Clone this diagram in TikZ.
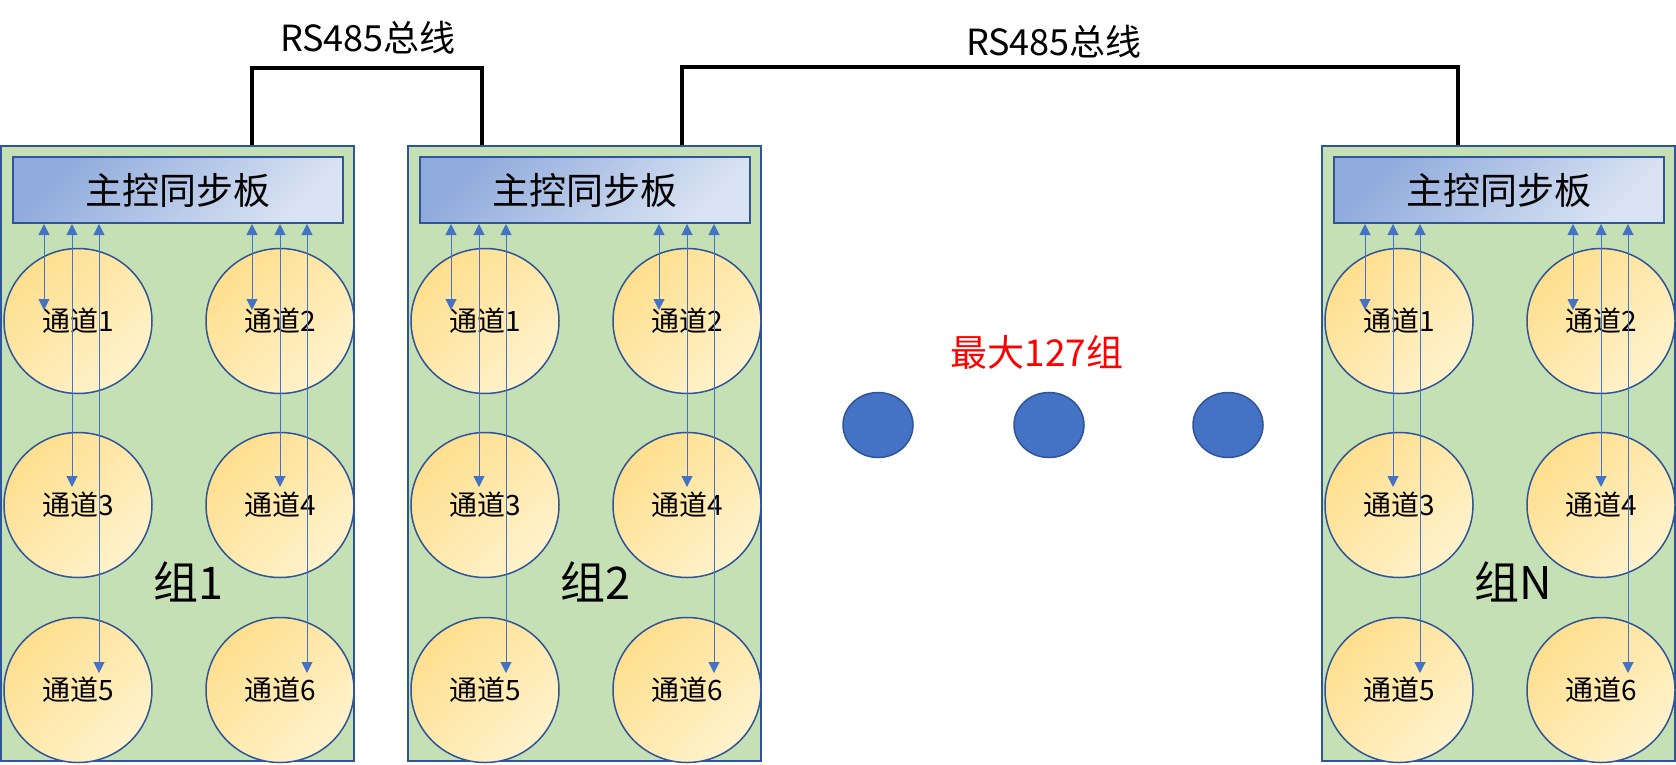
\documentclass[tikz,border=0pt]{standalone}
\usepackage{fontspec}
\setmainfont{Noto Sans CJK SC}
\usetikzlibrary{shapes.geometric,arrows.meta,calc}

\definecolor{boxgreen}{HTML}{C5E0B4}
\definecolor{edgeblue}{HTML}{2F5597}
\definecolor{linkblue}{HTML}{4472C4}
\definecolor{boardtop}{HTML}{8FAADC}
\definecolor{boardbot}{HTML}{DAE3F3}
\definecolor{chantop}{HTML}{FFDF8E}
\definecolor{chanbot}{HTML}{FFF2CC}
\definecolor{maxred}{HTML}{FF0000}

\tikzset{
  groupbox/.style={draw=edgeblue,fill=boxgreen,line width=2pt,minimum width=353pt,minimum height=615pt,inner sep=0pt},
  board/.style={draw=edgeblue,line width=2pt,top color=boardtop,bottom color=boardbot,shading angle=45,
    minimum width=330pt,minimum height=66pt,inner sep=0pt,font=\fontsize{37}{44}\selectfont},
  chan/.style={ellipse,draw=edgeblue,line width=1.5pt,top color=chantop,bottom color=chanbot,shading angle=45,
    minimum width=148pt,minimum height=145pt,inner sep=0pt,font=\fontsize{28}{32}\selectfont},
  link/.style={linkblue,line width=1pt,{Triangle[width=11pt,length=11pt]}-{Triangle[width=11pt,length=11pt]}},
  bus/.style={line width=4pt},
  buslabel/.style={inner sep=0pt,font=\fontsize{36}{42}\selectfont},
  grouplabel/.style={inner sep=0pt,anchor=west,font=\fontsize{45}{52}\selectfont},
  gapdot/.style={ellipse,draw=edgeblue,fill=linkblue,line width=1.5pt,minimum width=70pt,minimum height=65pt,inner sep=0pt},
}

\begin{document}
\begin{tikzpicture}[x=1pt,y=-1pt]

  \useasboundingbox (0,0) rectangle (1676,764);

  % the three groups
  \foreach \g/\x in {1/0,2/407,N/1321}{
    \node[groupbox] (g\g) at (\x+177.5,453.5) {};
    \node[board] (g\g-board) at (\x+178,190) {主控同步板};

    \node[chan] (g\g-c1) at (\x+78,321)  {通道1};
    \node[chan] (g\g-c2) at (\x+280,321) {通道2};
    \node[chan] (g\g-c3) at (\x+78,505)  {通道3};
    \node[chan] (g\g-c4) at (\x+280,505) {通道4};
    \node[chan] (g\g-c5) at (\x+78,690)  {通道5};
    \node[chan] (g\g-c6) at (\x+280,690) {通道6};

    \foreach \c/\dx/\dy in {1/-34/-11,3/-6/-18,5/21/-17,2/-28/-11,4/0/-18,6/27/-17}{
      \coordinate (g\g-a\c) at ($(g\g-c\c.center)+(\dx,\dy)$);
      \draw[link] (g\g-a\c) -- (g\g-a\c |- g\g-board.south);
    }

    \node[grouplabel] (g\g-label) at (\x+153,582) {组\g};
  }

  % bus
  \draw[bus] ([xshift=74.5pt]g1.north) -- ++(0,-77) -| ([xshift=-102.5pt]g2.north);
  \draw[bus] ([xshift=97.5pt]g2.north) -- ++(0,-78) -| ([xshift=-40.5pt]gN.north);
  \node[buslabel] (bus1) at (368,38) {RS485总线};
  \node[buslabel] (bus2) at (1054,42) {RS485总线};

  % more groups
  \node[gapdot] (d1) at (878,425) {};
  \node[gapdot] (d2) at (1049,425) {};
  \node[gapdot] (d3) at (1228,425) {};
  \node[text=maxred,inner sep=0pt,font=\fontsize{37}{44}\selectfont] (maxcount) at (1037,352) {最大127组};

\end{tikzpicture}
\end{document}
